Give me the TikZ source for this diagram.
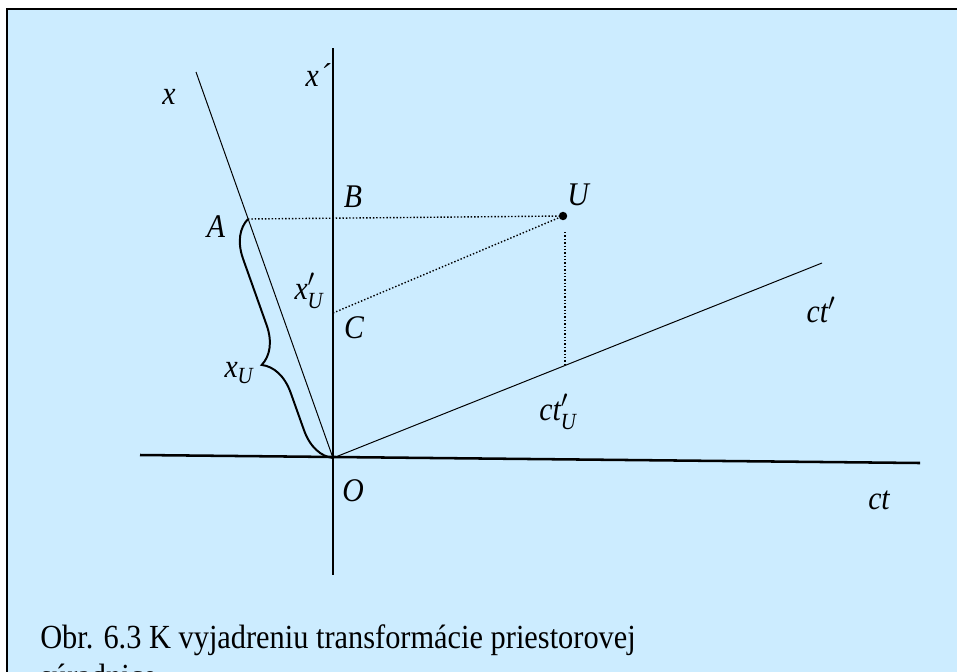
\documentclass[tikz,border=0pt]{standalone}
\usepackage{fontspec}
\usepackage{amsmath}
\setmainfont{Liberation Serif}[FakeStretch=0.9]
\usetikzlibrary{decorations.pathreplacing}
\definecolor{skyfill}{HTML}{CCECFF}

\begin{document}
\begin{tikzpicture}[
  x=0.025cm, y=-0.025cm,
  lbl/.style={inner sep=0pt, font=\fontsize{23.5}{28}\selectfont\itshape},
  caption/.style={inner sep=0pt, anchor=base west, font=\fontsize{24}{29}\selectfont},
  axis/.style={line width=1.8pt},
  thinaxis/.style={line width=0.7pt},
  proj/.style={line width=1pt, dash pattern=on 1pt off 1.4pt},
  xbrace/.style={line width=1.4pt, decorate,
                 decoration={brace, amplitude=0.9cm, aspect=0.44}},
]
\useasboundingbox (0,0) rectangle (957,671);
\fill[skyfill] (7,9) rectangle (990,700);
\draw[line width=1.6pt] (7,700) -- (7,9) -- (990,9);

\coordinate (O) at (333,458);
\coordinate (ctL) at (140,455);
\coordinate (ctR) at (920,463);
\coordinate (xpT) at (333,48);
\coordinate (xpB) at (333,575);
\coordinate (xT) at (196,72);
\coordinate (ctpR) at (822,263);
\coordinate (A) at (248,219);
\coordinate (B) at (333,219);
\coordinate (C) at (333,313);
\coordinate (Uv) at (565,232);
\coordinate (Uf) at (565,364);
\node[circle, fill=black, inner sep=0pt, minimum size=6pt] (U) at (563,216) {};

\draw[axis] (ctL) -- (ctR);
\draw[axis] (xpT) -- (xpB);
\draw[thinaxis] (xT) -- (O);
\draw[thinaxis] (O) -- (ctpR);

\draw[proj] (A) -- (U);
\draw[proj] (C) -- (U);
\draw[proj] (Uv) -- (Uf);

\draw[xbrace] (O) -- (A);

\node[lbl] (lx) at (169,97) {x};
\node[lbl] (lxp) at (318,75) {x\kern1pt´};
\node[lbl] (lA) at (216,227) {A};
\node[lbl] (lB) at (353,197) {B};
\node[lbl] (lC) at (354,328) {C};
\node[lbl] (lU) at (578,195) {U};
\node[lbl] (lO) at (353,491) {O};
\node[lbl] (lxpU) at (309,291) {$\textit{x}'_{\textit{U}}$};
\node[lbl] (lxU) at (239,373) {$\textit{x}_{\textit{U}}$};
\node[lbl] (lctpU) at (558,412) {$\textit{ct}'_{\textit{U}}$};
\node[lbl] (lctp) at (821,310) {$\textit{ct}'$};
\node[lbl] (lct) at (879,500) {ct};

\node[caption] (cap1) at (40,648) {Obr. 6.3 K vyjadreniu transformácie priestorovej};
\node[caption] (cap2) at (40,687) {súradnice};
\end{tikzpicture}
\end{document}
